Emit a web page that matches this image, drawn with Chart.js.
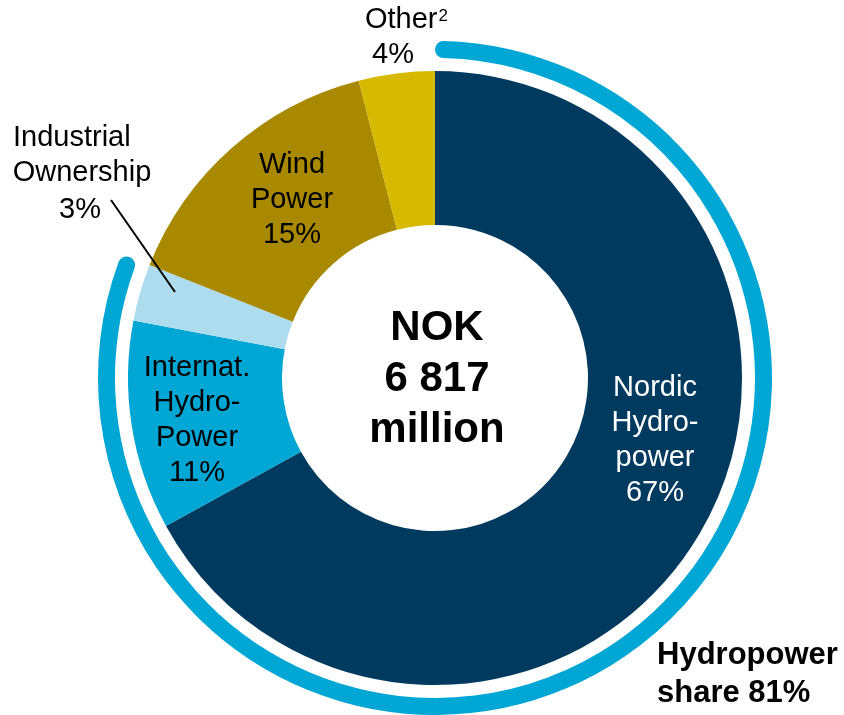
<!DOCTYPE html>
<html>
<head>
<meta charset="utf-8">
<title>Hydropower share</title>
<script src="https://cdn.jsdelivr.net/npm/chart.js@4.4.1/dist/chart.umd.min.js"></script>
<style>
    html, body { margin: 0; padding: 0; background: #ffffff; }
    #wrap { position: relative; width: 844px; height: 715px; }
</style>
</head>
<body>
<div id="wrap"><canvas id="shareChart"></canvas></div>
<script>
/* ---- DATA ---- */
const categories = ['Nordic Hydropower', 'Internat. Hydropower', 'Industrial Ownership', 'Wind Power', 'Other'];
const shares = [67, 11, 3, 15, 4];
const sliceColors = ['#003A5E', '#00A6D4', '#ADDCEE', '#A88900', '#D7B900'];
const hydroShare = 81;
const totalLines = ['NOK', '6 817', 'million'];

const FONT = '"Liberation Sans", Arial, sans-serif';

/* ---- LABELS (offsets from chart centre) ---- */
const sliceLabels = [
    { lines: ['Nordic', 'Hydro-', 'power', '67%'], dx: 220, dy: 62, color: '#ffffff' },
    { lines: ['Internat.', 'Hydro-', 'Power', '11%'], dx: -238, dy: 42, color: '#000000' },
    { lines: ['Wind', 'Power', '15%'], dx: -143, dy: -178, color: '#000000' },
    { lines: ['4%'], dx: -42, dy: -323, color: '#000000' }
];

const labelPlugin = {
    id: 'labels',
    afterDatasetsDraw(chart) {
        const ctx = chart.ctx;
        const arc = chart.getDatasetMeta(2).data[0];
        const cx = arc.x, cy = arc.y;
        ctx.save();
        ctx.textBaseline = 'middle';
        ctx.textAlign = 'center';
        ctx.font = '29px ' + FONT;

        sliceLabels.forEach(l => {
            ctx.fillStyle = l.color;
            const y0 = cy + l.dy - (l.lines.length - 1) * 35 / 2;
            l.lines.forEach((t, i) => ctx.fillText(t, cx + l.dx, y0 + i * 35));
        });

        // Other with superscript
        ctx.fillStyle = '#000000';
        ctx.textAlign = 'left';
        ctx.fillText('Other', cx - 70, cy - 358);
        const w = ctx.measureText('Other').width;
        ctx.font = '17px ' + FONT;
        ctx.fillText('2', cx - 70 + w + 1, cy - 362);

        // Industrial ownership (outside, with leader line)
        ctx.font = '29px ' + FONT;
        ctx.fillText('Industrial', cx - 422, cy - 240);
        ctx.textAlign = 'center';
        ctx.fillText('Ownership', cx - 353, cy - 205);
        ctx.fillText('3%', cx - 355, cy - 168);

        ctx.strokeStyle = '#000000';
        ctx.lineWidth = 2;
        ctx.beginPath();
        ctx.moveTo(cx - 324, cy - 178);
        ctx.lineTo(cx - 260, cy - 86);
        ctx.stroke();

        // centre total
        ctx.font = 'bold 42px ' + FONT;
        totalLines.forEach((t, i) => ctx.fillText(t, cx + 2, cy - 50 + i * 51));

        // hydropower share note
        ctx.font = 'bold 31px ' + FONT;
        ctx.textAlign = 'left';
        ctx.fillText('Hydropower', cx + 222, cy + 277);
        ctx.fillText('share ' + hydroShare + '%', cx + 222, cy + 315);
        ctx.restore();
    }
};

new Chart(document.getElementById('shareChart'), {
    type: 'doughnut',
    data: {
        labels: categories,
        datasets: [
            {
                // outer hydropower arc
                data: [hydroShare, 100 - hydroShare],
                backgroundColor: ['#00A6D4', 'rgba(0,0,0,0)'],
                borderWidth: 0,
                borderRadius: 9,
                weight: 17
            },
            {
                // white gap
                data: [100],
                backgroundColor: ['rgba(0,0,0,0)'],
                borderWidth: 0,
                weight: 13
            },
            {
                data: shares,
                backgroundColor: sliceColors,
                borderWidth: 0,
                weight: 154
            }
        ]
    },
    options: {
        responsive: true,
        maintainAspectRatio: false,
        animation: false,
        events: [],
        cutout: 153,
        layout: { padding: { left: 98, right: 72, top: 41, bottom: 0 } },
        elements: { arc: { hoverBorderWidth: 0, hoverOffset: 0, offset: 0 } },
        plugins: {
            legend: { display: false },
            tooltip: { enabled: false }
        }
    },
    plugins: [labelPlugin]
});
</script>
</body>
</html>
